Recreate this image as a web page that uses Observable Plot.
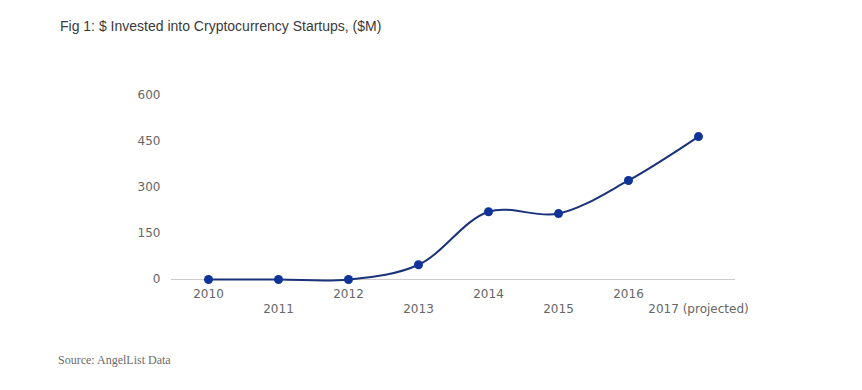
<!DOCTYPE html>
<html>
<head>
<meta charset="utf-8">
<script src="https://cdn.jsdelivr.net/npm/d3@7"></script>
<script src="https://cdn.jsdelivr.net/npm/@observablehq/plot@0.6"></script>
<style>
  html, body { margin: 0; padding: 0; background: #fff; }
  #wrap { position: relative; width: 862px; height: 390px; overflow: hidden; }
  #title { position: absolute; left: 60px; top: 18px; font-family: "Liberation Sans", Arial, sans-serif; font-size: 14px; color: #3a3a3a; white-space: nowrap; }
  #source { position: absolute; left: 58px; top: 353px; font-family: "Liberation Serif", "DejaVu Serif", serif; font-size: 12px; color: #6b6b6b; white-space: nowrap; }
  #chart { position: absolute; left: 0; top: 0; }
</style>
</head>
<body>
<div id="wrap">
  <div id="chart"></div>
  <div id="title">Fig 1: $ Invested into Cryptocurrency Startups, ($M)</div>
  <div id="source">Source: AngelList Data</div>
</div>
<script>
const years = ["2010", "2011", "2012", "2013", "2014", "2015", "2016", "2017"];
const yearLabels = ["2010", "2011", "2012", "2013", "2014", "2015", "2016", "2017 (projected)"];
const invested = [0, 0, 0, 48, 221, 215, 323, 466];
const yTicks = [0, 150, 300, 450, 600];

const data = years.map((y, i) => ({year: y, label: yearLabels[i], value: invested[i], row: i % 2}));

const chart = Plot.plot({
  width: 862,
  height: 390,
  marginLeft: 171,
  marginRight: 127,
  marginTop: 95,
  marginBottom: 111,
  style: {fontFamily: "'DejaVu Sans', sans-serif", fontSize: "12px", color: "#666", background: "transparent"},
  x: {type: "band", domain: years, padding: 0, axis: null},
  y: {domain: [0, 600], ticks: yTicks, axis: null},
  marks: [
    Plot.ruleY([0], {stroke: "#cccccc", strokeWidth: 1}),
    Plot.axisY(yTicks, {tickSize: 0, tickPadding: 11, fontSize: 12, fill: "#666", label: null}),
    Plot.text(data.filter(d => d.row === 0), {x: "year", y: () => 0, text: "label", dy: 15, fill: "#666", fontSize: 12}),
    Plot.text(data.filter(d => d.row === 1), {x: "year", y: () => 0, text: "label", dy: 30, fill: "#666", fontSize: 12}),
    Plot.line(data, {x: "year", y: "value", curve: "catmull-rom", stroke: "#1a327a", strokeWidth: 2}),
    Plot.dot(data, {x: "year", y: "value", r: 4.5, fill: "#0f3399", stroke: "none"})
  ]
});
document.getElementById("chart").appendChild(chart);
</script>
</body>
</html>
